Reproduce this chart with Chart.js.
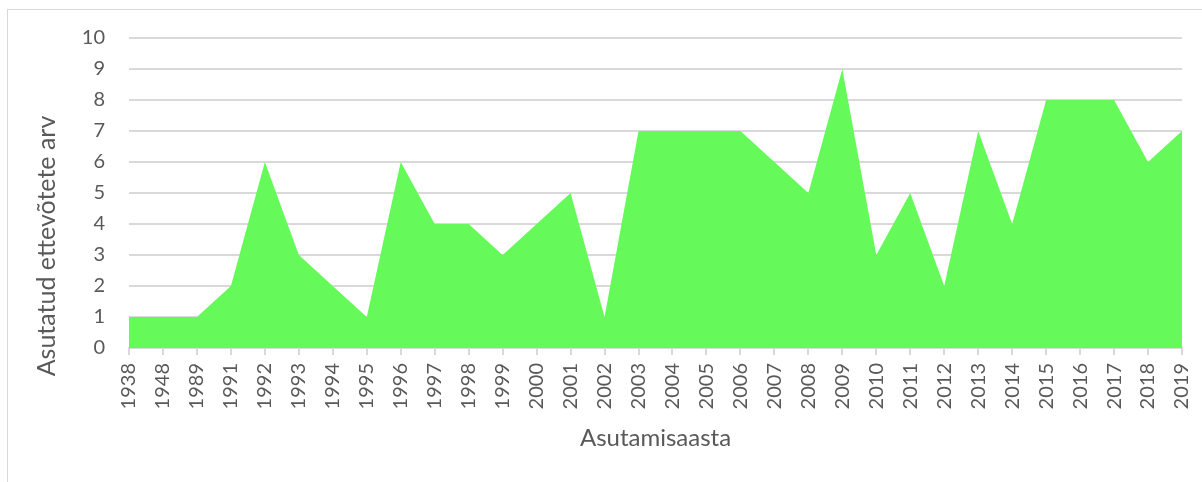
<!DOCTYPE html>
<html lang="et">
<head>
  <meta charset="UTF-8" />
  <title>Asutatud ettevõtete arv</title>
  <script src="https://cdn.jsdelivr.net/npm/chart.js"></script>
  <style>
    body {
      margin: 0;
      background: #fff;
      font-family: Lato, sans-serif;
    }
    .frame {
      position: absolute;
      left: 7px;
      top: 9px;
      width: 1300px;
      height: 600px;
      border-top: 1px solid #d9d9d9;
      border-left: 1px solid #d9d9d9;
    }
    .wrap {
      position: absolute;
      left: 0;
      top: 0;
      width: 1202px;
      height: 482px;
    }
  </style>
</head>
<body>
  <div class="frame"></div>
  <div class="wrap"><canvas id="chart" width="1202" height="482"></canvas></div>

  <script>
    // aastad ja asutatud ettevõtete arv
    const years = ['1938', '1948', '1989', '1991', '1992', '1993', '1994', '1995', '1996', '1997',
      '1998', '1999', '2000', '2001', '2002', '2003', '2004', '2005', '2006', '2007', '2008',
      '2009', '2010', '2011', '2012', '2013', '2014', '2015', '2016', '2017', '2018', '2019'];
    const counts = [1, 1, 1, 2, 6, 3, 2, 1, 6, 4,
      4, 3, 4, 5, 1, 7, 7, 7, 7, 6, 5,
      9, 3, 5, 2, 7, 4, 8, 8, 8, 6, 7];
    const yTicks = [0, 1, 2, 3, 4, 5, 6, 7, 8, 9, 10];
    const yTitle = 'Asutatud ettevõtete arv';
    const xTitle = 'Asutamisaasta';

    const textColor = '#595959';
    const gridColor = '#d9d9d9';

    // y-telje pealkiri joonistatakse ise, et see oleks Exceli moodi kogu joonise keskel
    const yTitlePlugin = {
      id: 'yTitle',
      afterDraw(chart) {
        const c = chart.ctx;
        c.save();
        c.translate(47, 246);
        c.rotate(-Math.PI / 2);
        c.font = '25px Lato';
        c.fillStyle = textColor;
        c.textAlign = 'center';
        c.textBaseline = 'middle';
        c.fillText(yTitle, 0, 0);
        c.restore();
      }
    };

    const ctx = document.getElementById('chart').getContext('2d');
    new Chart(ctx, {
      type: 'line',
      data: {
        labels: years,
        datasets: [{
          label: yTitle,
          data: counts,
          backgroundColor: '#66f95a',
          borderWidth: 0,
          borderColor: 'rgba(0,0,0,0)',
          fill: 'origin',
          tension: 0,
          pointRadius: 0
        }]
      },
      plugins: [yTitlePlugin],
      options: {
        responsive: false,
        animation: false,
        layout: { padding: { left: 8, top: 38, right: 20, bottom: 0 } },
        plugins: {
          legend: { display: false },
          tooltip: { enabled: false }
        },
        scales: {
          x: {
            offset: false,
            grid: {
              display: true,
              drawOnChartArea: false,
              drawTicks: true,
              tickLength: 7,
              color: gridColor,
              lineWidth: 2
            },
            border: { display: true, color: gridColor, width: 2 },
            ticks: {
              color: textColor,
              font: { family: 'Lato', size: 20 },
              maxRotation: 90,
              minRotation: 90,
              autoSkip: false,
              padding: 8
            },
            title: {
              display: true,
              text: xTitle,
              color: textColor,
              font: { family: 'Lato', size: 24 },
              padding: { top: 0, bottom: 29 }
            },
            afterFit: (scale) => {
              scale.height = 134;
              scale.paddingLeft = 0;
              scale.paddingRight = 0;
            }
          },
          y: {
            min: 0,
            max: 10,
            afterBuildTicks: (scale) => { scale.ticks = yTicks.map(v => ({ value: v })); },
            grid: { color: gridColor, lineWidth: 2, drawTicks: false },
            border: { display: false },
            ticks: {
              color: textColor,
              font: { family: 'Lato', size: 20 },
              padding: 24
            },
            title: { display: false },
            afterFit: (scale) => { scale.width = 121; }
          }
        }
      }
    });
  </script>
</body>
</html>
